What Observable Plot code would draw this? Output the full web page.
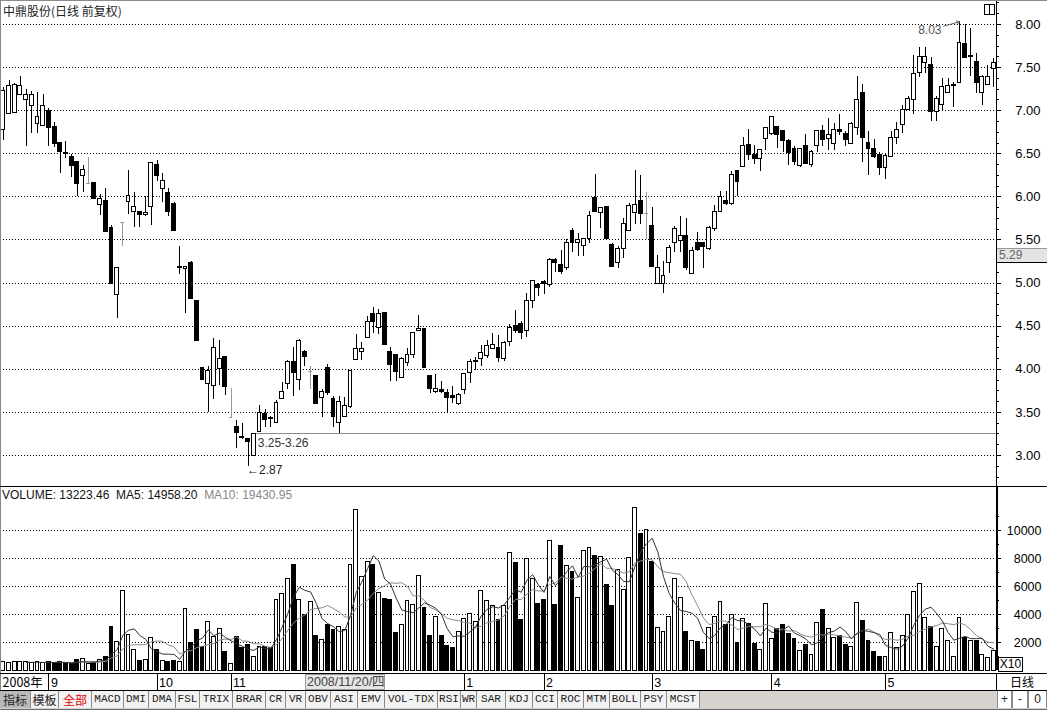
<!DOCTYPE html>
<html lang="zh">
<head>
<meta charset="utf-8">
<title>中鼎股份 日线</title>
<script src="https://cdn.jsdelivr.net/npm/d3@7"></script>
<script src="https://cdn.jsdelivr.net/npm/@observablehq/plot@0.6"></script>
<style>
  html,body{margin:0;padding:0;background:#fff;}
  #root{position:relative;width:1047px;height:710px;overflow:hidden;background:#fff;font-family:"Liberation Sans",Arial,sans-serif;}
  .abs{position:absolute;}
  svg{display:block;}
  #title{left:3px;top:2px;font-size:12px;font-family:"Noto Sans CJK SC",sans-serif;color:#222;line-height:17px;white-space:nowrap;}
  #vlegend{left:2px;top:488px;font-size:12px;line-height:15px;color:#111;white-space:nowrap;}
  #vlegend span{color:#888;}
  .btn{position:absolute;top:0;height:17px;line-height:17px;text-align:center;border-right:1px solid #8a8a8a;background:#f2f2f2;font-family:"Liberation Mono","DejaVu Sans Mono",monospace;font-size:11px;color:#222;box-sizing:border-box;}
  .cjk{font-family:"Noto Sans CJK SC",sans-serif;font-size:12px;}
</style>
</head>
<body>
<div id="root"></div>
<script>
// ---------------- data ----------------
const opens = [6.78,6.96,6.97,7.18,7.12,7.05,6.85,6.82,7.00,6.81, 6.62,6.51,6.46,6.41,6.24,6.15,6.16,5.91,5.95,5.64,
  4.86,5.70,5.94,5.82,5.82,5.79,5.88,6.37,6.09,6.05, 5.92,5.17,5.16,5.23,4.79,4.01,3.83,3.81,4.00,4.14,
  3.44,3.33,3.21,3.19,3.00,3.27,3.48,3.43,3.38,3.66, 3.83,4.09,3.88,4.20,3.98,3.92,3.67,4.01,3.66,3.38,
  3.45,3.56,4.11,4.20,4.36,4.64,4.48,4.65,4.20,4.17, 3.90,4.07,4.17,4.44,4.47,3.92,3.74,3.76,3.73,3.69,
  3.60,3.76,3.96,4.08,4.12,4.16,4.24,4.25,4.12,4.32, 4.50,4.52,4.44,4.79,4.98,5.01,4.98,5.27,5.21,5.17,
  5.60,5.46,5.43,5.51,5.99,5.81,5.88,5.44,5.23,5.39, 5.61,5.81,5.95,5.81,5.66,4.99,4.99,5.23,5.46,5.49,
  5.55,5.10,5.46,5.47,5.40,5.63,5.83,5.95,5.92,6.30, 6.35,6.60,6.49,6.44,6.67,6.73,6.81,6.77,6.65,6.55,
  6.36,6.59,6.37,6.59,6.77,6.67,6.61,6.78,6.73,6.61, 6.80,7.20,6.63,6.56,6.49,6.33,6.46,6.68,6.83,7.01,
  7.12,7.44,7.55,7.53,6.98,7.07,7.20,7.29,7.32,7.77, 7.62,7.56,7.20,7.30,7.48];
const highs = [7.27,7.35,7.31,7.40,7.24,7.22,7.21,7.19,7.03,6.86, 6.62,6.64,6.49,6.41,6.36,6.46,6.16,6.03,6.10,5.67,
  5.18,5.70,6.31,6.05,5.82,6.00,6.39,6.42,6.27,6.10, 5.94,5.43,5.19,5.25,4.79,4.01,4.03,4.36,4.33,4.14,
  3.78,3.41,3.37,3.19,3.26,3.58,3.53,3.45,3.64,3.85, 4.10,4.25,4.34,4.22,4.03,3.93,3.76,4.05,3.68,3.68,
  3.67,3.98,4.40,4.31,4.61,4.72,4.69,4.65,4.25,4.17, 4.14,4.24,4.43,4.62,4.47,3.92,3.94,3.86,3.76,3.80,
  3.72,3.95,4.11,4.14,4.28,4.33,4.42,4.39,4.32,4.52, 4.68,4.55,4.88,5.03,5.00,5.03,5.29,5.28,5.38,5.50,
  5.63,5.57,5.52,5.83,6.26,5.87,5.89,5.46,5.43,5.75, 5.92,6.31,6.25,6.05,5.88,5.32,5.25,5.44,5.66,5.77,
  5.75,5.41,5.59,5.47,5.66,5.90,6.06,6.06,6.29,6.30, 6.69,6.78,6.60,6.54,6.81,6.93,6.81,6.77,6.67,6.59,
  6.56,6.72,6.54,6.76,6.83,6.91,6.85,6.95,6.76,6.86, 7.40,7.30,6.76,6.67,6.51,6.49,6.76,6.86,7.06,7.17,
  7.64,7.73,7.73,7.62,7.17,7.37,7.37,7.33,8.03,8.00, 7.95,7.66,7.41,7.52,7.60];
const lows = [6.65,6.96,6.97,7.18,6.58,6.73,6.73,6.82,6.59,6.57, 6.27,6.45,6.23,6.00,6.05,6.15,5.98,5.78,5.59,4.99,
  4.59,5.43,5.80,5.65,5.64,5.77,5.67,6.18,5.94,5.77, 5.60,5.10,4.65,4.81,4.33,3.88,3.50,3.65,3.81,3.70,
  3.44,3.08,3.19,2.87,3.00,3.27,3.32,3.32,3.37,3.66, 3.76,3.68,3.75,4.03,3.76,3.60,3.44,3.70,3.33,3.26,
  3.45,3.55,4.10,4.10,4.36,4.42,4.40,4.28,3.86,3.86, 3.89,4.03,4.12,4.44,4.01,3.72,3.72,3.72,3.50,3.60,
  3.58,3.71,3.83,3.99,4.03,4.12,4.24,4.08,4.09,4.27, 4.41,4.35,4.37,4.70,4.84,4.87,4.95,5.12,5.10,5.15,
  5.35,5.31,5.31,5.46,5.83,5.63,5.51,5.19,5.17,5.28, 5.60,5.68,5.68,5.51,5.19,4.98,4.88,5.11,5.36,5.35,
  5.15,5.10,5.37,5.17,5.38,5.60,5.82,5.90,5.90,6.00, 6.35,6.42,6.37,6.30,6.54,6.71,6.56,6.51,6.36,6.36,
  6.34,6.37,6.34,6.51,6.59,6.54,6.54,6.71,6.59,6.61, 6.71,6.40,6.25,6.44,6.25,6.20,6.46,6.61,6.73,7.00,
  6.96,7.38,7.43,6.88,6.88,7.00,7.20,7.04,7.32,7.60, 7.40,7.20,7.06,7.30,7.27];
const closes = [7.23,7.29,7.30,7.29,7.18,7.18,6.93,7.05,6.80,6.61, 6.52,6.50,6.36,6.15,6.31,6.15,5.98,5.98,5.59,4.99,
  5.18,5.70,6.01,5.88,5.79,5.81,6.39,6.24,6.18,5.82, 5.60,5.19,5.19,4.81,4.33,3.88,3.98,4.25,4.12,3.80,
  3.44,3.26,3.20,3.16,3.25,3.49,3.41,3.42,3.61,3.74, 4.09,3.96,4.33,4.14,3.98,3.60,3.74,3.72,3.45,3.62,
  3.58,3.98,4.23,4.24,4.55,4.55,4.64,4.28,4.05,3.97, 4.12,4.17,4.42,4.47,4.01,3.77,3.77,3.74,3.67,3.67,
  3.70,3.94,4.09,4.10,4.19,4.27,4.28,4.13,4.31,4.48, 4.45,4.42,4.79,5.02,4.94,4.99,5.27,5.23,5.13,5.46,
  5.46,5.50,5.51,5.78,5.83,5.87,5.51,5.19,5.40,5.68, 5.89,5.91,5.80,5.81,5.19,5.17,5.08,5.41,5.63,5.55,
  5.17,5.37,5.38,5.42,5.64,5.82,6.00,5.92,6.25,6.17, 6.59,6.49,6.44,6.54,6.80,6.93,6.72,6.65,6.51,6.41,
  6.56,6.38,6.52,6.76,6.66,6.72,6.78,6.75,6.66,6.85, 7.12,6.68,6.55,6.46,6.33,6.47,6.68,6.78,7.01,7.14,
  7.43,7.62,7.62,6.98,7.14,7.28,7.29,7.30,7.78,7.61, 7.63,7.32,7.39,7.39,7.55];
const volumes = [600,550,620,580,600,530,600,560,620,560, 600,500,450,750,850,500,520,750,1000,3100,
  2050,5670,2560,1500,670,750,2330,1450,670,610, 670,610,4420,2000,2890,1670,3470,2420,2970,1300,
  470,2360,1580,1800,1000,1710,1670,1620,5070,5470, 6550,7570,5050,3970,4880,2430,2190,3280,2860,3090,
  2860,7540,11500,6710,7740,7540,5540,5120,5050,2670, 3280,4930,4710,6780,4450,2450,3810,2450,1740,1600,
  2740,3690,4050,3450,5710,4930,4640,3600,4610,8400, 7690,3630,7940,6570,4760,5010,9270,4690,8900,7440,
  7070,5190,8570,8770,8190,8120,6110,4610,7190,5760, 8020,11630,9770,10070,7770,3060,2760,3810,6570,5190,
  2760,2100,2050,1480,3060,3810,4860,3260,3930,1980, 3680,3350,1890,1440,4740,2280,2940,3240,2640,2250,
  1380,1800,1080,3390,4290,3000,2340,2490,1800,1680, 4830,3540,2130,1350,990,990,2700,1590,2430,3930,
  5640,6180,3750,3090,1680,2940,2130,990,3780,2340, 2130,2130,1140,900,1380];

const titleText = "中鼎股份(日线 前复权)";
const priceTicks = [3.00,3.50,4.00,4.50,5.00,5.50,6.00,6.50,7.00,7.50,8.00];
const priceMinorTicks = d3.range(2.75, 8.26, 0.125).filter(v => Math.abs(v * 2 - Math.round(v * 2)) > 1e-6);
const volumeTicks = [2000,4000,6000,8000,10000];
const volumeMinorTicks = [1000,3000,5000,7000,9000,11000];
const monthStarts = [8,27,40,81,95,114,135,155];
const monthLabels = ["9","10","11","1","2","3","4","5"];
const yearLabel = "2008年";
const cursorIndex = 53;
const cursorLabel = "2008/11/20/四";
const cursorPrice = "5.29";
const supportLevel = [{from: 44, price: 3.25, label: "3.25-3.26"}];
const volumeLegend = {volume: "13223.46", ma5: "14958.20", ma10: "19430.95"};
const toolbarButtons = ["指标","模板","全部","MACD","DMI","DMA","FSL","TRIX","BRAR","CR","VR","OBV","ASI","EMV","VOL-TDX","RSI","WR","SAR","KDJ","CCI","ROC","MTM","BOLL","PSY","MCST"];

// ---------------- build ----------------
const n = opens.length;
const bars = d3.range(n).map(i => ({i, open: opens[i], high: highs[i], low: lows[i], close: closes[i], volume: volumes[i]}));
const months = monthStarts.map((i, k) => ({i, label: monthLabels[k]}));
const flat = d => d.open === d.close;
const up = d => d.close >= d.open;
const HW = 0.34;
const FONT = "'Liberation Sans', Arial, sans-serif";
const xOpt = {type: "linear", domain: [-0.5, n - 0.5], axis: null};
const edge = () => n - 0.5;
const GRAY = "#9a9a9a";

const root = document.getElementById("root");
function place(node, left, top) {
  const d = document.createElement("div");
  d.className = "abs"; d.style.left = left + "px"; d.style.top = top + "px";
  d.appendChild(node); root.appendChild(d); return d;
}

const maxBar = d3.greatest(bars, d => d.high);
const minBar = d3.least(bars, d => d.low);

const priceChart = Plot.plot({
  width: 1047, height: 487,
  marginTop: 0, marginBottom: 0, marginLeft: 0, marginRight: 51,
  style: {background: "transparent", fontFamily: FONT, fontSize: "12px", overflow: "visible"},
  x: xOpt,
  y: {domain: [2.629, 8.278], axis: null},
  color: {type: "identity"},
  marks: [
    Plot.ruleY(priceTicks, {y: d => d, stroke: "#000", strokeDasharray: "1,2", shapeRendering: "crispEdges"}),
    Plot.ruleY(supportLevel, {y: "price", x1: "from", x2: edge, stroke: "#8c8c8c", shapeRendering: "crispEdges"}),
    Plot.ruleX(bars, {x: "i", y1: "low", y2: "high", stroke: d => flat(d) ? GRAY : "#000", shapeRendering: "crispEdges"}),
    Plot.rect(bars.filter(d => !flat(d)), {x1: d => d.i - HW, x2: d => d.i + HW, y1: "open", y2: "close",
      fill: d => up(d) ? "#fff" : "#000", stroke: "#000", shapeRendering: "crispEdges"}),
    Plot.ruleY(bars.filter(flat), {y: "close", x1: d => d.i - HW, x2: d => d.i + HW, stroke: GRAY, shapeRendering: "crispEdges"}),
    // right axis line and ticks
    Plot.ruleX([n - 0.5], {x: d => d, stroke: "#000", shapeRendering: "crispEdges"}),
    Plot.ruleY(priceTicks, {y: d => d, x1: edge, x2: edge, insetRight: -5, stroke: "#000", shapeRendering: "crispEdges"}),
    Plot.ruleY(priceMinorTicks, {y: d => d, x1: edge, x2: edge, insetRight: -3, stroke: "#000", shapeRendering: "crispEdges"}),
    Plot.text(priceTicks, {y: d => d, text: d => d.toFixed(2), frameAnchor: "right", dx: 44, textAnchor: "end", fill: "#000", fontSize: 13}),
    // annotations
    Plot.arrow([maxBar], {x1: d => d.i - 2.8, y1: d => d.high - 0.05, x2: "i", y2: "high", stroke: "#666", headLength: 5, strokeWidth: 1}),
    Plot.text([maxBar], {x: "i", y: "high", text: d => d.high.toFixed(2), dx: -18, dy: 8, textAnchor: "end", fill: "#555", fontSize: 12}),
    Plot.text([minBar], {x: "i", y: "low", text: d => "←" + d.low.toFixed(2), dx: -1, dy: 3, textAnchor: "start", fill: "#222", fontSize: 12}),
    Plot.text(supportLevel, {x: "from", y: "price", text: "label", dx: 4, dy: 9, textAnchor: "start", fill: "#333", fontSize: 12})
  ]
});
place(priceChart, 0, 0);

const volChart = Plot.plot({
  width: 1047, height: 186,
  marginTop: 0, marginBottom: 3, marginLeft: 0, marginRight: 51,
  style: {background: "transparent", fontFamily: FONT, fontSize: "12px", overflow: "visible"},
  x: xOpt,
  y: {domain: [0, 183 * 2000 / 28], axis: null},
  color: {type: "identity"},
  marks: [
    Plot.ruleY(volumeTicks, {y: d => d, stroke: "#000", strokeDasharray: "1,2", shapeRendering: "crispEdges"}),
    Plot.rect(bars, {x1: d => d.i - HW, x2: d => d.i + HW, y1: 0, y2: "volume",
      fill: d => up(d) ? "#fff" : "#000", stroke: "#000", shapeRendering: "crispEdges"}),
    Plot.lineY(bars, Plot.windowY({k: 10, anchor: "end", strict: true}, {x: "i", y: "volume", stroke: "#8a8a8a", strokeWidth: 1})),
    Plot.lineY(bars, Plot.windowY({k: 5, anchor: "end", strict: true}, {x: "i", y: "volume", stroke: "#333", strokeWidth: 1})),
    Plot.ruleX([n - 0.5], {x: d => d, stroke: "#000", strokeWidth: 2, shapeRendering: "crispEdges"}),
    Plot.ruleY(volumeTicks, {y: d => d, x1: edge, x2: edge, insetRight: -5, stroke: "#000", shapeRendering: "crispEdges"}),
    Plot.ruleY(volumeMinorTicks, {y: d => d, x1: edge, x2: edge, insetRight: -3, stroke: "#000", shapeRendering: "crispEdges"}),
    Plot.text(volumeTicks, {y: d => d, text: d => String(d), frameAnchor: "right", dx: 45, textAnchor: "end", fill: "#000", fontSize: 12.5})
  ]
});
place(volChart, 0, 487);

const dateChart = Plot.plot({
  width: 1047, height: 16,
  marginTop: 0, marginBottom: 0, marginLeft: 0, marginRight: 51,
  style: {background: "transparent", fontFamily: FONT, fontSize: "12px", overflow: "visible"},
  x: xOpt,
  marks: [
    Plot.ruleX(months, {x: "i", stroke: "#000", shapeRendering: "crispEdges"}),
    Plot.text(months, {x: "i", text: "label", dx: 2, textAnchor: "start", frameAnchor: "middle", fill: "#000", fontSize: 12.5}),
    Plot.text([yearLabel], {text: d => d, frameAnchor: "left", dx: 2, textAnchor: "start", fill: "#000", fontSize: 12.5, fontFamily: "'Noto Sans CJK SC', sans-serif"})
  ]
});
place(dateChart, 0, 674);

// ---------------- chrome ----------------
function box(left, top, w, h, css) {
  const d = document.createElement("div");
  d.className = "abs";
  Object.assign(d.style, {left: left + "px", top: top + "px", width: w + "px", height: h + "px", boxSizing: "border-box"}, css || {});
  root.appendChild(d); return d;
}
// frame lines
box(0, 0, 1047, 1, {background: "#8a8a8a"});
box(0, 0, 1, 691, {background: "#8a8a8a"});
box(0, 486, 1047, 1, {background: "#000"});
box(0, 673, 1047, 1, {background: "#000"});
box(0, 690, 1047, 1, {background: "#000"});
box(0, 709, 1047, 1, {background: "#6a6a6a"});
box(996, 674, 1, 17, {background: "#000"});

// title & small window icon
const t = document.createElement("div"); t.id = "title"; t.className = "abs"; t.textContent = titleText; root.appendChild(t);
box(984, 4, 11, 11, {border: "1px solid #000", background: "#fff"});
box(989, 4, 1, 11, {background: "#000"});

// current price marker on the axis
const cp = box(997, 248, 50, 15, {background: "#e4e4e4", borderTop: "1px solid #999", borderBottom: "1px solid #000",
  fontSize: "12px", lineHeight: "13px", color: "#666", paddingLeft: "2px"});
cp.textContent = cursorPrice;

// volume legend
const vl = document.createElement("div"); vl.id = "vlegend"; vl.className = "abs";
vl.innerHTML = `VOLUME: ${volumeLegend.volume}&nbsp; MA5: ${volumeLegend.ma5}&nbsp; <span>MA10: ${volumeLegend.ma10}</span>`;
root.appendChild(vl);

// X10 box
const xb = box(998, 657, 25, 15, {border: "1px solid #000", background: "#fff", fontSize: "12px", lineHeight: "13px", color: "#000", textAlign: "center"});
xb.textContent = "X10";

// cursor date box in the date row (positioned with Plot's x scale)
const sx = priceChart.scale("x");
const xpx = (sx && typeof sx.apply === "function") ? sx.apply(cursorIndex) : d3.scaleLinear(sx.domain, sx.range)(cursorIndex);
const db = box(Math.round(xpx) + 1, 674, 80, 16, {background: "#e6e6e6", border: "1px solid #9a9a9a", fontSize: "12.5px",
  lineHeight: "14px", color: "#444", paddingLeft: "1px", whiteSpace: "nowrap", fontFamily: "'Liberation Sans', 'Noto Sans CJK SC', sans-serif"});
db.textContent = cursorLabel;

// 日线 label
const dl = box(997, 674, 50, 16, {fontSize: "12px", lineHeight: "16px", textAlign: "center", color: "#000", fontFamily: "'Noto Sans CJK SC', sans-serif"});
dl.textContent = "日线";

// toolbar
const bar = box(0, 691, 1047, 18, {background: "#d6d3ce"});
const bounds = [0,31,59,92,124,149,176,200,233,266,286,306,331,358,385,438,461,477,506,533,558,584,610,641,667,700];
toolbarButtons.forEach((label, k) => {
  const b = document.createElement("div");
  b.className = "btn" + (k < 3 ? " cjk" : "");
  b.style.left = bounds[k] + "px";
  b.style.width = (bounds[k + 1] - bounds[k]) + "px";
  b.textContent = label;
  if (k === 0) { b.style.background = "#b9b9b9"; }
  if (k === 2) { b.style.color = "#e00000"; }
  bar.appendChild(b);
});
[["+", 997, 15], ["-", 1012, 16], ["0", 1028, 19]].forEach(([s, l, w]) => {
  const b = document.createElement("div");
  b.className = "btn"; b.style.left = l + "px"; b.style.width = w + "px"; b.style.borderLeft = "1px solid #8a8a8a";
  b.style.background = "#fff"; b.style.fontFamily = FONT; b.style.fontSize = "12px";
  b.textContent = s; bar.appendChild(b);
});
</script>
</body>
</html>
